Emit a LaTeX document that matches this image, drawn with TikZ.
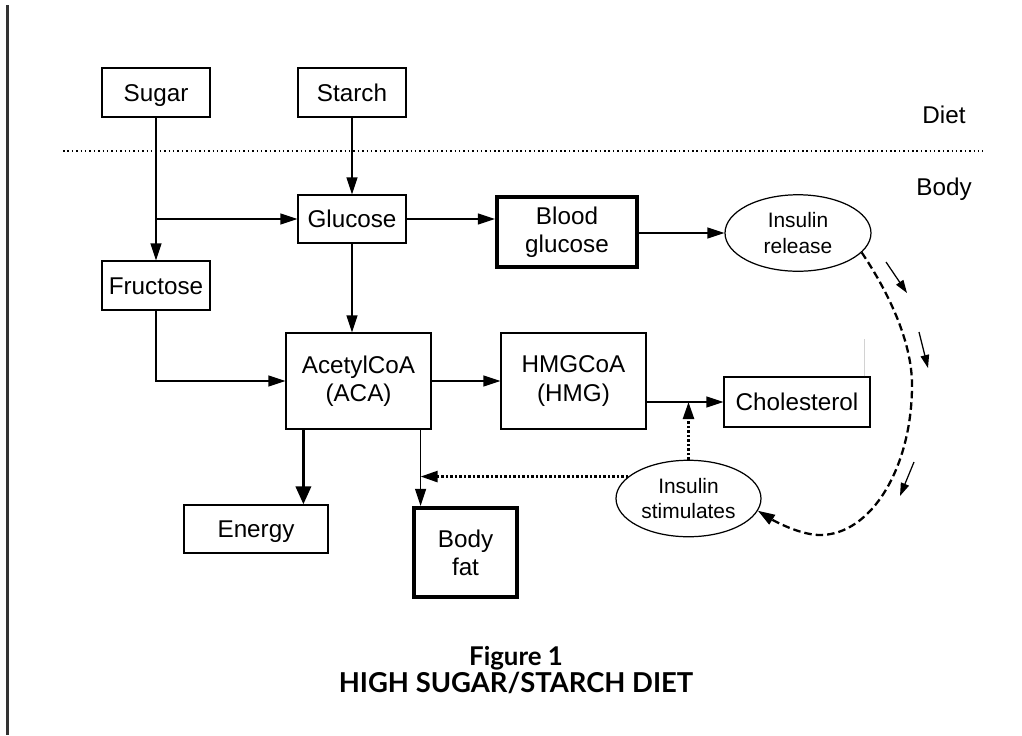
\documentclass[tikz,border=0pt]{standalone}
\usepackage{fontspec}
\setmainfont{Liberation Sans}
\newfontfamily\capfont{Lato}
\usetikzlibrary{arrows.meta,calc,shapes.geometric,positioning}

\begin{document}
\begin{tikzpicture}[x=0.02cm, y=-0.02cm,
    >={Triangle[length=0.34cm, width=0.22cm]},
    box/.style={draw, line width=0.7pt, inner sep=0pt, align=center,
        font=\fontsize{13.8}{16}\selectfont},
    oneline/.style={text height=12pt, text depth=2.1pt},
    heavybox/.style={box, line width=2.4pt},
    oval/.style={draw, ellipse, line width=0.7pt, inner sep=0pt, align=center,
        minimum width=2.92cm, minimum height=1.53cm,
        font=\fontsize{11.9}{14.7}\selectfont},
    flow/.style={->, line width=0.7pt},
    heavyflow/.style={-{Triangle[length=0.36cm, width=0.3cm]}, line width=2pt},
    hint/.style={->, line width=1.4pt, dash pattern=on 0.045cm off 0.045cm},
    loopline/.style={->, line width=1.3pt, dash pattern=on 0.15cm off 0.08cm},
    tick/.style={-{Triangle[length=0.26cm, width=0.17cm]}, line width=0.7pt},
    zone/.style={font=\fontsize{13.8}{16}\selectfont}]

    % Frame
    \useasboundingbox (0,0) rectangle (1022,735);
    \draw[black!80, line width=1.3pt] (7.5,5) -- (7.5,735);

    % Diet / body split
    \draw[line width=0.9pt, dash pattern=on 0.03cm off 0.058cm] (63,151) -- (983,151);
    \node[zone, oneline] (diet) at (944,114.5) {Diet};
    \node[zone, oneline] (body) at (944,187) {Body};

    % Nodes
    \node[box, oneline, minimum width=2.16cm, minimum height=0.98cm] (sugar) at (156,92.5) {Sugar};
    \node[box, oneline, minimum width=2.16cm, minimum height=0.98cm] (starch) at (352,92.5) {Starch};
    \node[box, oneline, minimum width=2.16cm, minimum height=0.96cm] (glucose) at (352,219) {Glucose};
    \node[box, oneline, minimum width=2.16cm, minimum height=0.98cm] (fructose) at (156,285.5) {Fructose};
    \node[heavybox, minimum width=2.8cm, minimum height=1.4cm] (blood) at (567,232) {Blood\\glucose};
    \node[oval] (release) at (798,233) {Insulin\\release};
    \node[box, minimum width=2.9cm, minimum height=1.92cm] (aca) at (358.5,381) {AcetylCoA\\(ACA)};
    \node[box, minimum width=2.9cm, minimum height=1.92cm] (hmg) at (573.5,381) {HMGCoA\\(HMG)};
    \node[box, oneline, minimum width=2.92cm, minimum height=1cm] (chol) at (797,402) {Cholesterol};
    \node[box, oneline, minimum width=2.88cm, minimum height=0.96cm] (energy) at (256,529) {Energy};
    \node[heavybox, minimum width=2.06cm, minimum height=1.78cm] (bodyfat) at (465.5,552.5) {Body\\fat};
    \node[oval, minimum width=2.9cm] (stim) at (688.5,498.5) {Insulin\\stimulates};

    % Diet into body
    \draw[flow] (sugar) -- (fructose);
    \draw[flow] (sugar.south |- glucose.west) -- (glucose.west);
    \draw[flow] (starch) -- (glucose);
    \draw[flow] (glucose.south) -- (glucose.south |- aca.north);
    \draw[flow] (fructose.south) |- (aca.west);

    % Blood sugar path
    \draw[flow] (glucose.east) -- (glucose.east -| blood.west);
    \draw[flow] (blood.east |- release.west) -- (release.west);

    % ACA products
    \draw[flow] (aca.east) -- (hmg.west);
    \draw[flow] (hmg.east |- chol.west) -- (chol.west);
    \draw[heavyflow] (aca.south west) ++(18,0) coordinate (a1) -- (a1 |- energy.north);
    \draw[flow] (aca.south east) ++(-11,0) coordinate (a2) -- (a2 |- bodyfat.north);
    \draw[gray!35, line width=0.4pt] ($(chol.north east)+(-6,0)$) -- ++(0,-37);

    % Insulin effects
    \draw[hint] (stim.160) -- (stim.160 -| a2);
    \draw[hint] (stim.north) -- (stim.north |- chol.west);

    % Insulin loop
    \draw[loopline] (release.-17) .. controls +(25,37) and +(0,-45) .. (912,385)
        .. controls +(0,83) and +(51,0) .. (820,535)
        .. controls +(-20,0) and +(16,10) .. (stim.-10);
    \draw[tick] (886,262) -- (907,293);
    \draw[tick] (919,332) -- (928,368);
    \draw[tick] (914,462) -- (900,496);

    % Caption
    \node[font=\capfont\bfseries, align=center] (caption) at (516,670)
        {\fontsize{14.7}{17}\selectfont Figure 1\\\fontsize{15.6}{17}\selectfont HIGH SUGAR/STARCH DIET};
\end{tikzpicture}
\end{document}
